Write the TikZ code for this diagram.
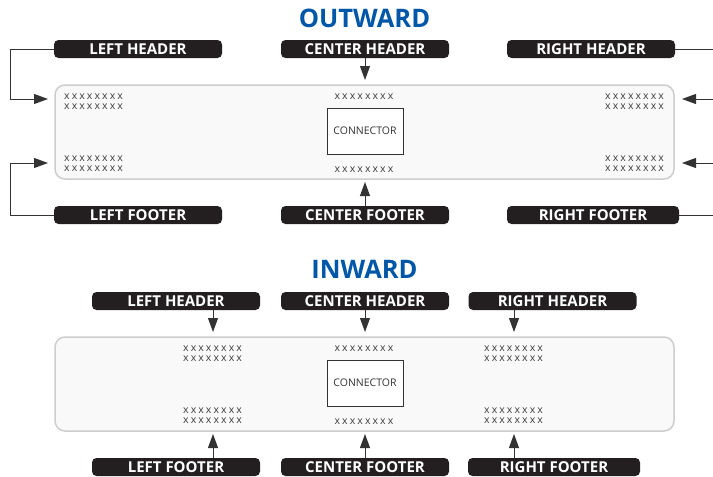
\documentclass[tikz,border=0pt]{standalone}
\usepackage{fontspec}
\setsansfont{Open Sans}
\newfontfamily\xfont{Open Sans}[LetterSpace=20]
\usetikzlibrary{arrows.meta}
\definecolor{titleblue}{RGB}{0,87,168}
\definecolor{pillcolor}{RGB}{35,31,32}
\definecolor{panelfill}{RGB}{249,249,249}
\definecolor{paneldraw}{RGB}{205,205,205}
\definecolor{linegray}{RGB}{51,51,51}
\definecolor{xgray}{RGB}{60,60,60}

\tikzset{
  title/.style={font=\sffamily\bfseries\fontsize{25.5}{28}\selectfont, text=titleblue, inner sep=0pt},
  pill/.style={fill=pillcolor, rounded corners=4.5pt, text=white, inner sep=0pt,
    font=\sffamily\bfseries\fontsize{15}{16}\selectfont, minimum width=168pt, minimum height=18pt},
  panel/.style={fill=panelfill, draw=paneldraw, line width=1.5pt, rounded corners=10pt,
    minimum width=619pt, minimum height=94pt, inner sep=0pt},
  conn/.style={draw=linegray, line width=0.8pt, fill=white, minimum width=76pt, minimum height=46pt,
    inner sep=0pt, text=linegray, font=\sffamily\fontsize{10.5}{12}\selectfont},
  xtext/.style={font=\xfont\fontsize{10.5}{10}\selectfont, text=xgray, align=left, inner sep=0pt},
  arr/.style={draw=linegray, line width=1pt, -{Triangle[length=14pt,width=10pt]}}
}

\begin{document}
\begin{tikzpicture}[x=1pt, y=-1pt]
  \clip (0,0) rectangle (713,477);

  % outward
  \node[title] (otitle) at (364.5,18.5) {OUTWARD};
  \node[panel] (op) at (364.5,132) {};
  \node[conn] (oconn) at (365,131) {CONNECTOR};
  \node[pill] (olh) at (138,49) {LEFT HEADER};
  \node[pill] (och) at (365,49) {CENTER HEADER};
  \node[pill] (orh) at (591,49) {RIGHT HEADER};
  \node[pill] (olf) at (138,215) {LEFT FOOTER};
  \node[pill] (ocf) at (365,215) {CENTER FOOTER};
  \node[pill, minimum width=172pt] (orf) at (593,215) {RIGHT FOOTER};

  \node[xtext, anchor=base west] (oxtl) at (64,109) {xxxxxxxx\\xxxxxxxx};
  \node[xtext, anchor=base] (oxtc) at (364,99) {xxxxxxxx};
  \node[xtext, anchor=base west] (oxtr) at (605,109) {xxxxxxxx\\xxxxxxxx};
  \node[xtext, anchor=base west] (oxbl) at (64,171.5) {xxxxxxxx\\xxxxxxxx};
  \node[xtext, anchor=base] (oxbc) at (364,172) {xxxxxxxx};
  \node[xtext, anchor=base west] (oxbr) at (605,171.5) {xxxxxxxx\\xxxxxxxx};

  \coordinate (otl) at (48,99);
  \coordinate (otc) at (365,80);
  \coordinate (otr) at (682,99);
  \coordinate (obl) at (48,163);
  \coordinate (obc) at (365,182);
  \coordinate (obr) at (682,163);

  \draw[arr] (olh.west) -- ++(-43,0) |- (otl);
  \draw[arr] (och.south) -- (otc);
  \draw[arr] (orh.east) -- ++(45,0) |- (otr);
  \draw[arr] (olf.west) -- ++(-43,0) |- (obl);
  \draw[arr] (ocf.north) -- (obc);
  \draw[arr] (orf.east) -- ++(41,0) |- (obr);

  % inward
  \begin{scope}[shift={(0,252)}]
    \node[title] (ititle) at (364.5,17) {INWARD};
    \node[panel] (ip) at (364.5,132) {};
    \node[conn] (iconn) at (365,131) {CONNECTOR};
    \node[pill] (ilh) at (176,49) {LEFT HEADER};
    \node[pill] (ich) at (365,49) {CENTER HEADER};
    \node[pill] (irh) at (552.5,49) {RIGHT HEADER};
    \node[pill] (ilf) at (176,215) {LEFT FOOTER};
    \node[pill] (icf) at (365,215) {CENTER FOOTER};
    \node[pill, minimum width=172pt] (irf) at (554,215) {RIGHT FOOTER};

    \node[xtext, anchor=base west] (ixtl) at (183,109) {xxxxxxxx\\xxxxxxxx};
    \node[xtext, anchor=base] (ixtc) at (364,99) {xxxxxxxx};
    \node[xtext, anchor=base west] (ixtr) at (484,109) {xxxxxxxx\\xxxxxxxx};
    \node[xtext, anchor=base west] (ixbl) at (183,171.5) {xxxxxxxx\\xxxxxxxx};
    \node[xtext, anchor=base] (ixbc) at (364,172) {xxxxxxxx};
    \node[xtext, anchor=base west] (ixbr) at (484,171.5) {xxxxxxxx\\xxxxxxxx};

    \coordinate (itl) at (213,80);
    \coordinate (itc) at (365,80);
    \coordinate (itr) at (514,80);
    \coordinate (ibl) at (213,182);
    \coordinate (ibc) at (365,182);
    \coordinate (ibr) at (514,182);

    \draw[arr] (ilh.south -| itl) -- (itl);
    \draw[arr] (ich.south) -- (itc);
    \draw[arr] (irh.south -| itr) -- (itr);
    \draw[arr] (ilf.north -| ibl) -- (ibl);
    \draw[arr] (icf.north) -- (ibc);
    \draw[arr] (irf.north -| ibr) -- (ibr);
  \end{scope}
\end{tikzpicture}
\end{document}
